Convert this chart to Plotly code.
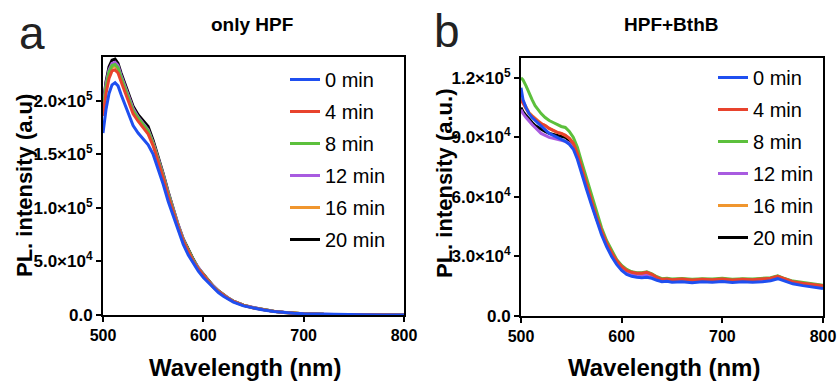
import plotly.graph_objects as go

# ---------------- data ----------------
series_names = ["0 min", "4 min", "8 min", "12 min", "16 min", "20 min"]
series_colors = ["#1f4ff0", "#e8432d", "#5cc03c", "#a85be0", "#f0962e", "#000000"]

# Panel a: only HPF (intensity in units of 1e3)
wl_a = [500, 503, 506, 509, 512, 515, 518, 522, 526, 530, 535, 540, 545, 550, 555, 560, 565, 570,
        575, 580, 585, 590, 595, 600, 605, 610, 615, 620, 625, 630, 640, 650, 660, 670, 680, 690,
        700, 720, 740, 760, 780, 800]
a_0min = [170, 192, 207, 215, 217, 214, 206, 196, 186, 177, 170, 165, 159, 150, 137, 122, 106, 92,
          78, 66, 56, 48, 41, 35, 30, 25, 21, 17.5, 14.5, 12, 8.5, 6.3, 4.6, 3.3, 2.3, 1.6,
          1.1, 0.6, 0.3, 0.2, 0.1, 0.1]
a_4min = [186, 207, 221, 228, 229, 226, 218, 208, 198, 188, 181, 175, 169, 158, 144, 128, 111, 96,
          82, 69, 59, 50, 43, 37, 31, 26, 22, 18.5, 15.3, 12.6, 9, 6.6, 4.8, 3.4, 2.4, 1.7,
          1.2, 0.6, 0.3, 0.2, 0.1, 0.1]
a_8min = [192, 213, 227, 233, 234, 231, 222, 211, 201, 191, 184, 178, 172, 160, 146, 130, 113, 97,
          83, 70, 60, 51, 43.5, 37.5, 31.5, 26.5, 22.3, 18.7, 15.5, 12.8, 9.1, 6.7, 4.9, 3.5, 2.4, 1.7,
          1.2, 0.6, 0.3, 0.2, 0.1, 0.1]
a_12min = [195, 216, 229, 235, 236, 233, 224, 213, 203, 193, 185, 179, 173, 161, 147, 131, 114, 98,
           84, 71, 60, 51, 44, 38, 32, 27, 22.5, 18.8, 15.6, 12.9, 9.2, 6.7, 4.9, 3.5, 2.4, 1.7,
           1.2, 0.6, 0.3, 0.2, 0.1, 0.1]
a_16min = [190, 211, 225, 231, 233, 230, 222, 212, 202, 192, 184, 178, 172, 160, 146, 130, 113, 97,
           83, 70, 60, 51, 43.5, 37.5, 31.5, 26.5, 22.2, 18.6, 15.4, 12.7, 9.1, 6.7, 4.9, 3.5, 2.4, 1.7,
           1.2, 0.6, 0.3, 0.2, 0.1, 0.1]
a_20min = [196, 218, 232, 238, 239, 235, 226, 215, 205, 195, 187, 181, 176, 163, 148, 132, 115, 99,
           84, 71, 61, 52, 44, 38, 32, 27, 22.6, 18.9, 15.7, 13, 9.2, 6.8, 5, 3.5, 2.5, 1.8,
           1.2, 0.6, 0.3, 0.2, 0.1, 0.1]

# Panel b: HPF+BthB (intensity in units of 1e3)
wl_b = [500, 502, 505, 508, 511, 514, 517, 520, 524, 528, 532, 536, 540, 544, 548, 552, 556, 560,
        565, 570, 575, 580, 585, 590, 595, 600, 605, 610, 615, 620, 625, 630, 635, 640, 645, 650,
        660, 670, 680, 690, 700, 710, 720, 730, 740, 748, 755, 760, 770, 780, 790, 800]
b_0min = [115, 109, 105, 102, 100, 98.5, 97, 95.5, 94, 92, 91, 90, 89, 88, 86.5, 84, 79, 72,
          64, 56, 48, 41, 35, 30, 26, 23, 21, 20, 19.5, 19.3, 19.5, 19, 18, 17.3, 17.5, 17,
          17.3, 16.8, 17.2, 17, 17.4, 16.9, 17.2, 17, 17.3, 17.8, 18.8, 17.8, 16.2, 15.3, 14.5, 13.8]
b_4min = [109, 107, 104.5, 102, 100.5, 99, 98, 97, 96, 94.5, 93.5, 92.5, 92, 91, 89.5, 87, 82, 75,
          67, 58.5, 50, 43, 37, 32, 28, 25, 23, 22, 21.5, 21.5, 22, 21, 19.5, 18.5, 18.7, 18.3,
          18.6, 18.2, 18.5, 18.3, 18.7, 18.2, 18.5, 18.3, 18.6, 19, 20, 19, 17.3, 16.5, 15.8, 15.2]
b_8min = [120, 119, 116, 112, 109, 106, 104, 102, 100, 98.5, 97.5, 96.5, 95.5, 95, 93, 90, 85, 78,
          69.5, 60.5, 52, 44.5, 38, 33, 28.5, 25.5, 23.5, 22.3, 21.8, 21.8, 22.3, 21.3, 19.8, 18.8, 19, 18.6,
          18.9, 18.5, 18.8, 18.6, 19, 18.5, 18.8, 18.6, 18.9, 19.3, 20.2, 19.2, 17.6, 16.8, 16, 15.5]
b_12min = [104, 102, 100, 98, 96.5, 95, 93.5, 92, 91, 90, 89.5, 89, 88.5, 88, 87, 85, 80.5, 73.5,
           65.5, 57, 49, 42, 36, 31, 27, 24, 22, 21, 20.5, 20.5, 21, 20.2, 19, 18, 18.2, 17.8,
           18.1, 17.7, 18, 17.8, 18.2, 17.7, 18, 17.8, 18.1, 18.5, 19.5, 18.5, 16.9, 16, 15.3, 14.8]
b_16min = [110, 108, 105, 102.5, 101, 99.5, 98, 97, 96, 94.5, 93.5, 92.5, 92, 91, 89.5, 87, 82, 75,
           67, 58.5, 50, 43, 37, 32, 28, 25, 23, 22, 21.5, 21.5, 22, 21, 19.5, 18.5, 18.7, 18.3,
           18.6, 18.2, 18.5, 18.3, 18.7, 18.2, 18.5, 18.3, 18.6, 19, 20, 19, 17.3, 16.5, 15.8, 15.2]
b_20min = [105, 103, 101, 99, 97.5, 96, 95, 94, 93, 92, 91.5, 91, 90.5, 90, 88.5, 86, 81, 74,
           66, 57.5, 49.5, 42.5, 36.5, 31.5, 27.5, 24.5, 22.5, 21.5, 21, 21, 21.5, 20.6, 19.2, 18.2, 18.4, 18,
           18.3, 17.9, 18.2, 18, 18.4, 17.9, 18.2, 18, 18.3, 18.7, 19.7, 18.7, 17, 16.2, 15.5, 15]

series_a = [a_0min, a_4min, a_8min, a_12min, a_16min, a_20min]
series_b = [b_0min, b_4min, b_8min, b_12min, b_16min, b_20min]

x_ticks = [500, 600, 700, 800]
x_text = ["500", "600", "700", "800"]
ya_ticks = [0, 50000, 100000, 150000, 200000]
ya_text = ["0.0", "5.0×10<sup>4</sup>", "1.0×10<sup>5</sup>", "1.5×10<sup>5</sup>", "2.0×10<sup>5</sup>"]
yb_ticks = [0, 30000, 60000, 90000, 120000]
yb_text = ["0.0", "3.0×10<sup>4</sup>", "6.0×10<sup>4</sup>", "9.0×10<sup>4</sup>", "1.2×10<sup>5</sup>"]

# ---------------- figure ----------------
W, H = 837, 381
FONT = "Liberation Sans, Arial, Helvetica, sans-serif"
fig = go.Figure()

def bold(labels):
    return ["<b>" + s + "</b>" for s in labels]

# draw later series first so "0 min" sits on top; legendrank keeps legend order 0 -> 20 min
for i in reversed(range(len(series_names))):
    fig.add_trace(go.Scatter(
        x=wl_a, y=[v * 1000 for v in series_a[i]], mode="lines", name=series_names[i],
        legendgroup="a" + str(i), legendrank=i + 1,
        line=dict(color=series_colors[i], width=3), xaxis="x", yaxis="y", legend="legend"))
    fig.add_trace(go.Scatter(
        x=wl_b, y=[v * 1000 for v in series_b[i]], mode="lines", name=series_names[i],
        legendgroup="b" + str(i), legendrank=i + 1,
        line=dict(color=series_colors[i], width=3), xaxis="x2", yaxis="y2", legend="legend2"))

axis_common = dict(showline=True, linewidth=2, linecolor="black", mirror=True,
                   ticks="outside", ticklen=5, tickwidth=2, tickcolor="black",
                   showgrid=False, zeroline=False, fixedrange=True, automargin=False)
xfont = dict(family=FONT, size=16, color="black", weight="bold")
yfont = dict(family=FONT, size=17, color="black", weight="bold")

legend_common = dict(xanchor="left", yanchor="top", traceorder="grouped", tracegroupgap=3,
                     bgcolor="rgba(0,0,0,0)", font=dict(family=FONT, size=20, color="black"))

fig.update_layout(
    template="none",
    width=W, height=H, margin=dict(l=0, r=0, t=0, b=0),
    paper_bgcolor="white", plot_bgcolor="white",
    font=dict(family=FONT, color="black"),
    xaxis=dict(domain=[103 / W, 404 / W], range=[500, 800], tickvals=x_ticks, ticktext=bold(x_text),
               tickfont=xfont, anchor="y", **axis_common),
    yaxis=dict(domain=[1 - 315 / H, 1 - 57 / H], range=[0, 241000], tickvals=ya_ticks, ticktext=bold(ya_text),
               tickfont=yfont, anchor="x", **axis_common),
    xaxis2=dict(domain=[521 / W, 823 / W], range=[500, 800], tickvals=x_ticks, ticktext=bold(x_text),
                tickfont=xfont, anchor="y2", **axis_common),
    yaxis2=dict(domain=[1 - 316 / H, 1 - 58 / H], range=[0, 130000], tickvals=yb_ticks, ticktext=bold(yb_text),
                tickfont=yfont, anchor="x2", **axis_common),
    legend=dict(x=285 / W, y=1 - 60 / H, **legend_common),
    legend2=dict(x=713 / W, y=1 - 58 / H, **legend_common),
)

ann = []
def add_text(text, xpx, ypx, size, bold=False, angle=0, color="black"):
    ann.append(dict(text=text, x=xpx / W, y=1 - ypx / H, xref="paper", yref="paper",
                    xanchor="center", yanchor="middle", showarrow=False, textangle=angle,
                    font=dict(family=FONT, size=size, color=color, weight="bold" if bold else "normal")))

add_text("a", 31.5, 33, 46, color="#222222")
add_text("b", 446.5, 31, 46, color="#222222")
add_text("only HPF", 252, 24, 19, bold=True)
add_text("HPF+BthB", 671, 24, 19, bold=True)
add_text("Wavelength (nm)", 245, 367, 24, bold=True)
add_text("Wavelength (nm)", 664, 367, 24, bold=True)
add_text("PL. intensity (a.u)", 24, 186, 22, bold=True, angle=-90)
add_text("PL. intensity (a.u.)", 444, 184, 22, bold=True, angle=-90)
fig.update_layout(annotations=ann)

fig.write_html("out.html")
